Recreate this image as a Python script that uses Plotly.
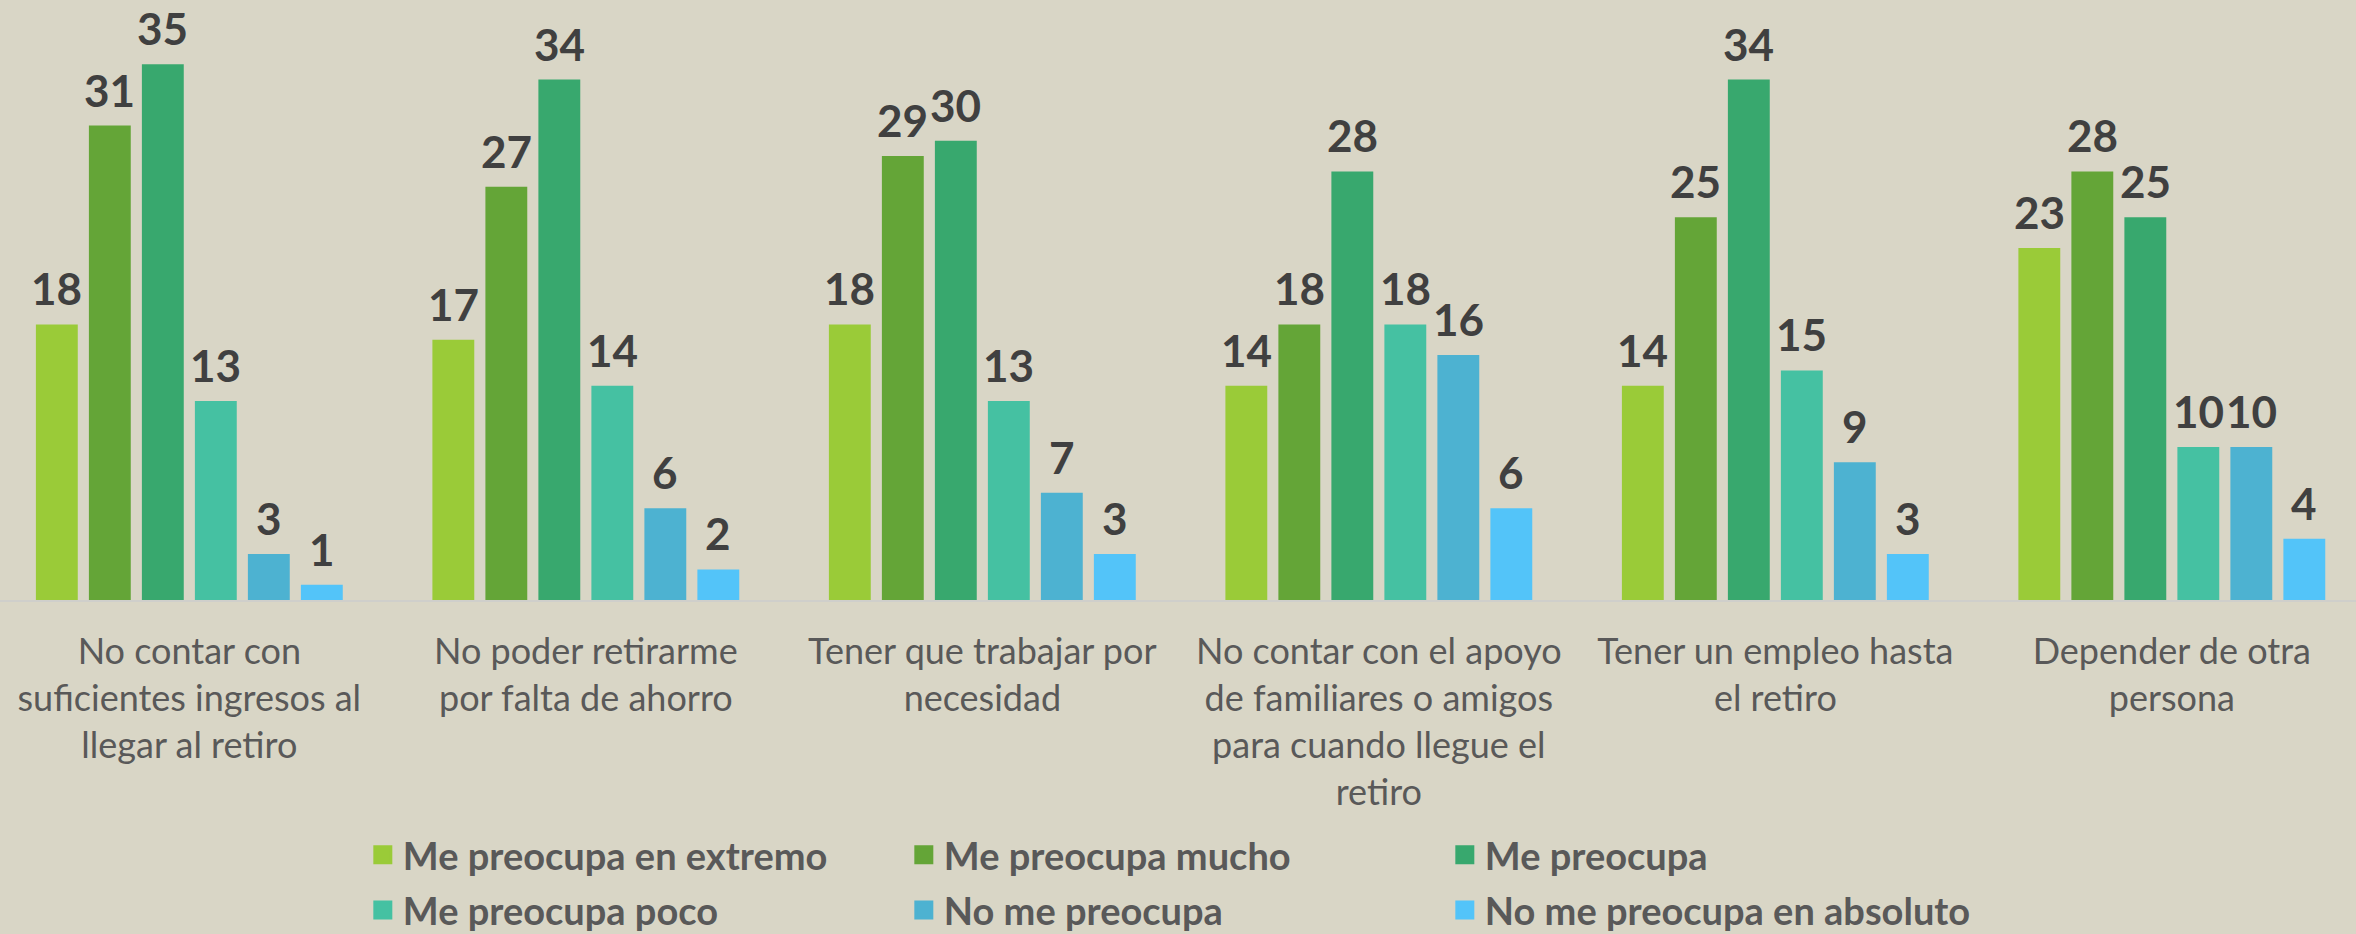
import plotly.graph_objects as go

categories = [
    "No contar con<br>suficientes ingresos al<br>llegar al retiro",
    "No poder retirarme<br>por falta de ahorro",
    "Tener que trabajar por<br>necesidad",
    "No contar con el apoyo<br>de familiares o amigos<br>para cuando llegue el<br>retiro",
    "Tener un empleo hasta<br>el retiro",
    "Depender de otra<br>persona",
]
series_names = [
    "Me preocupa en extremo",
    "Me preocupa mucho",
    "Me preocupa",
    "Me preocupa poco",
    "No me preocupa",
    "No me preocupa en absoluto",
]
extremo = [18, 17, 18, 14, 14, 23]
mucho = [31, 27, 29, 18, 25, 28]
preocupa = [35, 34, 30, 28, 34, 25]
poco = [13, 14, 13, 18, 15, 10]
no_preocupa = [3, 6, 7, 16, 9, 10]
absoluto = [1, 2, 3, 6, 3, 4]
series_values = [extremo, mucho, preocupa, poco, no_preocupa, absoluto]

colors = ["#9ACB38", "#64A537", "#38A86E", "#45C1A2", "#4DB2D1", "#53C4F9"]

BG = "#D9D6C6"
BARGAP = 0.198
GROUPGAP = 0.21
n = len(series_names)

fig = go.Figure()
for name, vals, col in zip(series_names, series_values, colors):
    fig.add_trace(go.Bar(
        x=categories, y=vals, name=name, marker_color=col,
        marker_line_width=0, showlegend=False,
    ))

# legend entries (two rows, two legends)
for k, (name, col) in enumerate(zip(series_names, colors)):
    fig.add_trace(go.Scatter(
        x=[None], y=[None], mode="markers", name=name,
        marker=dict(symbol="square", size=16, color=col, line=dict(color=col, width=3)),
        legend="legend" if k < 3 else "legend2",
    ))

# value labels
slot = (1 - BARGAP) / n
annotations = []
for j, vals in enumerate(series_values):
    for i, v in enumerate(vals):
        annotations.append(dict(
            x=i + (j - (n - 1) / 2) * slot, y=v, xref="x", yref="y",
            text=f"<b>{v}</b>", showarrow=False, yanchor="bottom", yshift=8,
            font=dict(family="Lato", size=44, color="#404040"),
        ))

legend_common = dict(
    orientation="h", xanchor="left", yanchor="middle",
    entrywidth=496, entrywidthmode="pixels",
    font=dict(family="Lato", size=38, color="#595959", weight="bold"),
    bgcolor="rgba(0,0,0,0)", itemsizing="trace",
)

fig.update_layout(
    width=2356, height=934,
    paper_bgcolor=BG, plot_bgcolor=BG,
    margin=dict(l=0, r=0, t=0, b=334, autoexpand=False),
    barmode="group", bargap=BARGAP, bargroupgap=GROUPGAP,
    annotations=annotations,
    legend=dict(x=0.154, y=-0.425, **legend_common),
    legend2=dict(x=0.154, y=-0.517, **legend_common),
    xaxis=dict(
        range=[-0.4775, 5.4645], showgrid=False, showline=True,
        linecolor="#CFCFCB", linewidth=2, ticks="", ticklabelstandoff=19,
        tickfont=dict(family="Lato", size=36, color="#595959"),
    ),
    yaxis=dict(range=[0, 39.2], visible=False, showgrid=False, zeroline=False),
    font=dict(family="Lato"),
)

fig.write_html(
    "out.html",
    config={"displayModeBar": False},
    post_script="document.body.style.margin='0';document.body.style.background='%s';" % BG,
)
